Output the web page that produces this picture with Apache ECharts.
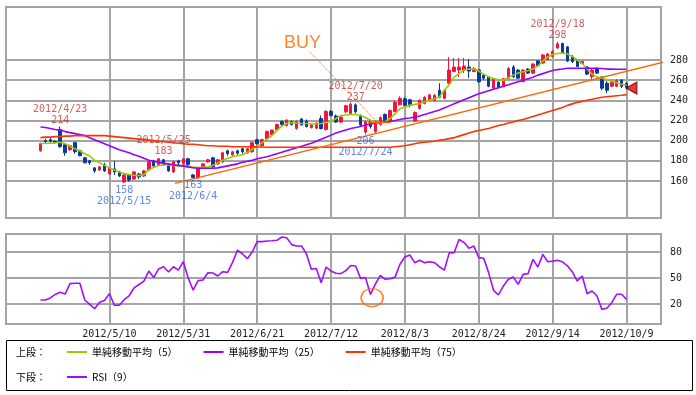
<!DOCTYPE html>
<html><head><meta charset="utf-8">
<script src="https://cdn.jsdelivr.net/npm/echarts@6/dist/echarts.min.js"></script>
<style>html,body{margin:0;padding:0;background:#fff}#c{width:696px;height:395px}</style>
</head><body><div id="c"></div>
<script>
const dates = ['2012/4/17','2012/4/18','2012/4/19','2012/4/20','2012/4/23','2012/4/24','2012/4/25','2012/4/26','2012/4/27',
'2012/5/1','2012/5/2','2012/5/7','2012/5/8','2012/5/9','2012/5/10','2012/5/11','2012/5/14','2012/5/15','2012/5/16','2012/5/17','2012/5/18','2012/5/21','2012/5/22','2012/5/23','2012/5/24','2012/5/25','2012/5/28','2012/5/29','2012/5/30','2012/5/31',
'2012/6/1','2012/6/4','2012/6/5','2012/6/6','2012/6/7','2012/6/8','2012/6/11','2012/6/12','2012/6/13','2012/6/14','2012/6/15','2012/6/18','2012/6/19','2012/6/20','2012/6/21','2012/6/22','2012/6/25','2012/6/26','2012/6/27','2012/6/28','2012/6/29',
'2012/7/2','2012/7/3','2012/7/4','2012/7/5','2012/7/6','2012/7/9','2012/7/10','2012/7/11','2012/7/12','2012/7/13','2012/7/17','2012/7/18','2012/7/19','2012/7/20','2012/7/23','2012/7/24','2012/7/25','2012/7/26','2012/7/27','2012/7/30','2012/7/31',
'2012/8/1','2012/8/2','2012/8/3','2012/8/6','2012/8/7','2012/8/8','2012/8/9','2012/8/10','2012/8/13','2012/8/14','2012/8/15','2012/8/16','2012/8/17','2012/8/20','2012/8/21','2012/8/22','2012/8/23','2012/8/24','2012/8/27','2012/8/28','2012/8/29','2012/8/30','2012/8/31',
'2012/9/3','2012/9/4','2012/9/5','2012/9/6','2012/9/7','2012/9/10','2012/9/11','2012/9/12','2012/9/13','2012/9/14','2012/9/18','2012/9/19','2012/9/20','2012/9/21','2012/9/24','2012/9/25','2012/9/26','2012/9/27','2012/9/28',
'2012/10/1','2012/10/2','2012/10/3','2012/10/4','2012/10/5','2012/10/9'];

const opens = [190,200,201,199.5,211,196,191,198,190,183,180,173,171,176,167,172,169,159,166,162,167,165,171,180,176,181,175,169,180,177,
182,166,163,172.5,179,183,177,179,190,186,190,192,188,189,201,195,202,206,211,219,215,
219,212,221.5,219.5,213,212.5,222,211,229,224.5,218.5,228.7,227,235.5,224,208.5,219.5,209,216,226,220,
229,235.5,241.5,240.5,219.5,232,237,240,240,250,242,257,268.5,270,270,273,268.5,270,265,263,252,258,253.5,
262,273,270,258.5,271,267,279,277,280.5,283.5,292,296.5,293,283,280,276.5,273,263.5,271.5,
263,257,254,254,260,257];
const closes = [197,199,199.5,198,194,188,195,189,185,178,178,170,174,170,173,169,165,166,161,169,164,170,179,175,182,177,170,179,178,182,
176,163.5,172,177,181,174,181,188,187,189,187.5,189,192,198,197,201,209,210.5,216,216,220.5,
216,219,215.5,214,215.5,217.5,212,229,225,218.5,223.5,234.7,236,228.5,215.5,218.5,214,219,223,219,230,
238,242,235,235.5,228,240,243,245.5,245,243,250,270,273,273,274,269,271.5,258.5,262,254,261.5,253,261.5,
271.5,263.5,262,270,267,276,274.5,285,286,288.5,296,287,279,278.5,273.5,278.5,266,270,267,
252,250,258,259.5,254,253];
const lows = [189,197,198,197,193,185,190,187,184.5,177.5,176,168,170,169,166,166,164,158,159,161,162,164,170,174,175,175,169,168,176,176,
175,163,162,172,178,173,176,178,185,185,186,187,187,188,196,194,200,205,210,215,214,
215,211,215,213,212,211.5,211,210,224,217.5,217.5,227,226,227,214.5,206,212,207,215,218,219,
228,235,234,233,219,231,236,239,239,242,241,256,268,263,267,262,268,257,260,253,251,252,253,
261,262,261,258,266,266,273,276,279.5,283,291,286,278,277,273,276,265,260,266,
250,247,253,253,252,251];
const highs = [198,202,203,200.5,214,197,196,199,191,184,181,174,175,178,174,180,170,167,167,170,168,171,180,181,183,182,176,180,181,183,
183,167,173,177.5,182,184,182,189,191,190,191,193,193,199,202,202,210,211,217,220,221,
220,220,222.5,221,216.5,218.5,225,230.5,230.5,226,224.5,235.5,238,237,226,220,221,220,224,227,231,
240,244,243,241.5,229,241,244,246,246,257,251,283,282,282,282,281,273,271,266,264,262,259,262,
273,275,271,271,272,277,280,286,287,290,298,297,294,285,281,279,274,271,273,
264,259,260,261,261,258];

const ma5 = [197,197.5,197.5,198,198.5,197,194.5,192,189.7,187,184.7,180.5,178,175.5,173,171,169,167.5,166.3,165.7,165.3,166.3,171,173.5,175.3,175.8,176.3,175.5,175,174.5,
174,173.5,173.5,173.5,174,175.5,178,180.5,182.5,184,185,186,188.5,191.5,194.5,198,201.5,205,210,214.5,217,
217.8,217.5,217,217,216.7,216.5,217,218,219,222,225,225.5,226,226,225,223,220,218,217.5,219,222,
226.5,231.7,233.5,235,236,236.7,238.5,240,241.5,243.3,250,255.5,263,266.5,270,271,271,269,266,263.5,261.7,260.5,260,
262.5,265,267,268.3,269.5,271,274,279,283,285.5,286.5,287,286,283.5,280,276.5,271,266,263,
262,260.5,259,257.5,256,255];
const ma25 = [213.5,213,212,211,210.5,209,208,207,206,205,203,201,199,197,195,193,191,189.5,188,186,184.5,182.5,180.5,179.5,178.5,177.5,177,176,175.5,175,
174,173.2,172.6,172.6,172.6,172.6,173,174,175,176,177,178.5,179.5,180.5,182,183,184,185.5,187,188.5,190,
191.5,193,194.5,196,197.5,199.5,201.5,203.5,205.5,207.5,209,210.5,212,213,214,215.5,216.5,217.5,218,218.5,219,
220,221,222,222.5,223.5,224.5,226,227.5,229,230.5,232.5,234.5,236.5,238.5,240.5,242.5,244.5,246.5,248,249.5,251,252.5,254,
255.5,257,258.5,260,261.5,263,265,266.5,268,269.5,270.5,271,271.8,271.8,271.8,271.8,271.8,271.8,271.8,
271.5,271,271,270.8,270.8,270.8];
const ma75 = [203,203.5,203.5,204,204,204.5,204.5,205,205,205,205,205,205,205,204.5,204,203.5,203,202.5,202,201.5,201,200.5,200,199.5,199,198.5,198,197.5,197,
196.5,196.5,196,195.5,195,195,194.5,194.5,194.5,194,194,194,194,194,193.8,193.7,193.5,193.5,193.5,193.5,193.5,
193.5,193.5,193.5,193.5,193.5,193.5,193.5,193.5,193.5,193.5,193.5,193.5,193.5,193.5,193.5,193.5,193.5,193.5,193.5,193.5,193.5,
194,194.5,195,196,197,198,198.5,199,199.5,200.5,201,202,203,204.5,206,207.5,209,210,211,212,213.5,215,216,
217.5,218.5,220,221,222.5,224,225.5,227,228.5,230,231.5,233,235,236.5,238,239,240,241,242,
243,243.5,244,244.5,245,245.7];
const rsi9 = [24.6,24.6,27,31,33.5,31.5,43.5,44,44,24.6,19.6,14.6,22,24,32,18.5,18.5,25,29.5,38.5,42.5,46.5,58,50.5,60.5,63,57,63,59,68.8,
50,36,47,47.7,56,55.8,52.3,57.3,56.5,68,82,78,72.3,80,92,92,92.7,93,93.5,97.3,96.5,
88.5,87,87,78,60,61,44.6,62.7,58,55.5,55,58.5,64.5,63.8,49.6,50.5,31,43,53,48.5,49.2,
51,65.8,74.2,76.5,67.7,70.4,67.7,68.8,67.7,63,59,79,79.2,94.6,91,84.2,86.9,73.5,72.7,56.2,35.8,30.4,40.8,
48.5,51.2,42.7,54.2,55,71.5,62.7,77.3,68.8,69.5,70.4,68.5,64,57,46.5,52.3,31.9,35,29.2,
13.8,15,21.5,31.2,31.2,25.4];

const priceTicks = [160, 180, 200, 220, 240, 260, 280];
const rsiTicks = [20, 50, 80];
const dateTickLabels = ['2012/5/10','2012/5/31','2012/6/21','2012/7/12','2012/8/3','2012/8/24','2012/9/14','2012/10/9'];

const highNoteDates = ['2012/4/23','2012/5/25','2012/7/20','2012/9/18'];
const highNoteValues = [214, 183, 237, 298];
const lowNoteDates = ['2012/5/15','2012/6/4','2012/7/24'];
const lowNoteValues = [158, 163, 206];

// drawing-only annotations, in (day index, price) units
const trendLine = [[27.3, 157.7], [131.9, 284.4]];
const buyPointer = [[54.7, 287.9], [68.3, 218.8]];
const buyBase = [[66.5, 218], [71.1, 218]];
const buyText = [[53.2, 296.4]];
const lastMarker = [[120, 252.2]];
const rsiRing = [[67.35, 27.3]];

const seriesNames = ['単純移動平均（5）', '単純移動平均（25）', '単純移動平均（75）', 'RSI（9）'];

const PAD = 7;
const cats = [];
for (let k = 0; k < PAD; k++) cats.push('pre' + k);
dates.forEach(d => cats.push(d));
for (let k = 0; k < PAD; k++) cats.push('post' + k);
const XMIN = -PAD, XMAX = dates.length - 1 + PAD;
const isTick = (idx, val) => dateTickLabels.indexOf(val) >= 0;

const L = 6, R = 35;
const gridLine = { color: '#a4a4a4', width: 2 };
const mono = '"DejaVu Sans Mono", monospace';
const cjk = '"Noto Sans CJK JP", sans-serif';
const RED = '#f51440', BLUE = '#0b3a9c';
const C5 = '#99cc00', C25 = '#9900ff', C75 = '#ff3300', TREND = '#ff6600', CRSI = '#a010ff';

const hiddenCat = gi => ({ type: 'category', gridIndex: gi, data: cats, boundaryGap: false, show: false });
const hiddenVal = (gi, min, max) => ({ type: 'value', gridIndex: gi, min: min, max: max, show: false });
const pair = arr => dates.map((d, k) => [d, arr[k]]);

const chart = echarts.init(document.getElementById('c'), null, { renderer: 'canvas' });
chart.setOption({
  animation: false,
  backgroundColor: '#fff',
  grid: [
    { left: L, right: R, top: 7, height: 211, show: true, borderColor: '#a4a4a4', borderWidth: 2, backgroundColor: 'transparent' },
    { left: L, right: R, top: 60, height: 121 },
    { left: L, right: R, top: 60, height: 121 },
    { left: L, right: R, top: 234, height: 90, show: true, borderColor: '#a4a4a4', borderWidth: 2, backgroundColor: 'transparent' },
    { left: L, right: R, top: 252, height: 52 },
    { left: L, right: R, top: 252, height: 52 }
  ],
  xAxis: [
    { type: 'category', gridIndex: 0, data: cats, boundaryGap: false,
      axisLine: { show: false }, axisTick: { show: false }, axisLabel: { show: false },
      splitLine: { show: true, interval: isTick, lineStyle: gridLine } },
    hiddenCat(1),
    { type: 'value', gridIndex: 2, min: XMIN, max: XMAX, show: false },
    { type: 'category', gridIndex: 3, data: cats, boundaryGap: false,
      axisLine: { show: false }, axisTick: { show: false },
      axisLabel: { show: true, interval: isTick, fontSize: 10, fontFamily: mono, color: '#222', margin: 5 },
      splitLine: { show: true, interval: isTick, lineStyle: gridLine } },
    hiddenCat(4),
    { type: 'value', gridIndex: 5, min: XMIN, max: XMAX, show: false }
  ],
  yAxis: [
    hiddenVal(0, 0, 1),
    { type: 'value', gridIndex: 1, min: priceTicks[0], max: priceTicks[priceTicks.length - 1], interval: priceTicks[1] - priceTicks[0],
      position: 'right', axisLine: { show: false }, axisTick: { show: false },
      axisLabel: { fontSize: 10, fontFamily: mono, color: '#222', margin: 9 },
      splitLine: { show: true, lineStyle: gridLine } },
    hiddenVal(2, priceTicks[0], priceTicks[priceTicks.length - 1]),
    hiddenVal(3, 0, 1),
    { type: 'value', gridIndex: 4, min: rsiTicks[0], max: rsiTicks[rsiTicks.length - 1], interval: rsiTicks[1] - rsiTicks[0],
      position: 'right', axisLine: { show: false }, axisTick: { show: false },
      axisLabel: { fontSize: 10, fontFamily: mono, color: '#222', margin: 9 },
      splitLine: { show: true, lineStyle: gridLine } },
    hiddenVal(5, rsiTicks[0], rsiTicks[rsiTicks.length - 1])
  ],
  legend: [
    { left: 67, top: 347, padding: 0, icon: 'rect', itemWidth: 20, itemHeight: 2, itemGap: 26, selectedMode: false,
      data: seriesNames.slice(0, 3), textStyle: { fontSize: 10, fontFamily: cjk, color: '#000' } },
    { left: 67, top: 372, padding: 0, icon: 'rect', itemWidth: 20, itemHeight: 2, itemGap: 26, selectedMode: false,
      data: seriesNames.slice(3), textStyle: { fontSize: 10, fontFamily: cjk, color: '#000' } }
  ],
  graphic: [
    { type: 'rect', shape: { x: 6.5, y: 340.5, width: 686, height: 50 }, style: { fill: 'none', stroke: '#000', lineWidth: 1 }, silent: true },
    { type: 'text', left: 16, top: 347, style: { text: '上段：', font: '10px "Noto Sans CJK JP"', fill: '#000' } },
    { type: 'text', left: 16, top: 372, style: { text: '下段：', font: '10px "Noto Sans CJK JP"', fill: '#000' } }
  ],
  series: [
    { type: 'candlestick', name: 'price', xAxisIndex: 1, yAxisIndex: 1, clip: false, barWidth: 3, z: 2,
      data: dates.map((d, k) => [d, opens[k], closes[k], lows[k], highs[k]]),
      encode: { x: 0, y: [1, 2, 3, 4] },
      itemStyle: { color: RED, color0: BLUE, borderColor: RED, borderColor0: BLUE, borderWidth: 1 } },
    { type: 'line', name: seriesNames[0], xAxisIndex: 1, yAxisIndex: 1, clip: false, symbol: 'none', z: 4, color: C5,
      lineStyle: { color: C5, width: 1.6 }, data: pair(ma5) },
    { type: 'line', name: seriesNames[1], xAxisIndex: 1, yAxisIndex: 1, clip: false, symbol: 'none', z: 4, color: C25,
      lineStyle: { color: C25, width: 1.6 }, data: pair(ma25) },
    { type: 'line', name: seriesNames[2], xAxisIndex: 1, yAxisIndex: 1, clip: false, symbol: 'none', z: 4, color: C75,
      lineStyle: { color: C75, width: 1.6 }, data: pair(ma75) },
    { type: 'scatter', name: 'highs', xAxisIndex: 1, yAxisIndex: 1, clip: false, symbolSize: 1, z: 6,
      itemStyle: { color: 'rgba(0,0,0,0)' },
      data: highNoteDates.map((d, k) => [d, highNoteValues[k]]),
      label: { show: true, position: 'top', distance: 0, color: '#cc3333', fontSize: 10, fontFamily: mono, lineHeight: 11,
        formatter: p => p.value[0] + '\n' + p.value[1] } },
    { type: 'scatter', name: 'lows', xAxisIndex: 1, yAxisIndex: 1, clip: false, symbolSize: 1, z: 6,
      itemStyle: { color: 'rgba(0,0,0,0)' },
      data: lowNoteDates.map((d, k) => [d, lowNoteValues[k]]),
      label: { show: true, position: 'bottom', distance: 1, color: '#3366dd', fontSize: 10, fontFamily: mono, lineHeight: 11,
        formatter: p => p.value[1] + '\n' + p.value[0] } },
    { type: 'line', name: 'trend', xAxisIndex: 2, yAxisIndex: 2, clip: false, symbol: 'none', z: 5,
      lineStyle: { color: TREND, width: 1.4 }, data: trendLine },
    { type: 'line', name: 'buyPointer', xAxisIndex: 2, yAxisIndex: 2, clip: false, symbol: 'none', z: 5,
      lineStyle: { color: TREND, width: 1, type: 'dotted' }, data: buyPointer },
    { type: 'line', name: 'buyBase', xAxisIndex: 2, yAxisIndex: 2, clip: false, symbol: 'none', z: 5,
      lineStyle: { color: TREND, width: 1.4 }, data: buyBase },
    { type: 'scatter', name: 'buyText', xAxisIndex: 2, yAxisIndex: 2, clip: false, symbolSize: 1, z: 6,
      itemStyle: { color: 'rgba(0,0,0,0)' }, data: buyText,
      label: { show: true, position: 'inside', formatter: 'BUY', fontSize: 18, fontFamily: '"Liberation Sans", Arial, sans-serif', color: '#ff6600' } },
    { type: 'scatter', name: 'last', xAxisIndex: 2, yAxisIndex: 2, clip: false, z: 7,
      symbol: 'triangle', symbolRotate: 90, symbolSize: [12, 11],
      itemStyle: { color: '#ee0000', borderColor: '#3a0000', borderWidth: 1 }, data: lastMarker },
    { type: 'line', name: seriesNames[3], xAxisIndex: 4, yAxisIndex: 4, clip: false, symbol: 'none', z: 4, color: CRSI,
      lineStyle: { color: CRSI, width: 1.6 }, data: pair(rsi9) },
    { type: 'scatter', name: 'ring', xAxisIndex: 5, yAxisIndex: 5, clip: false, z: 6,
      symbol: 'circle', symbolSize: [22, 18],
      itemStyle: { color: 'rgba(0,0,0,0)', borderColor: '#ff6600', borderWidth: 1.5 }, data: rsiRing }
  ]
});
</script>
</body></html>
